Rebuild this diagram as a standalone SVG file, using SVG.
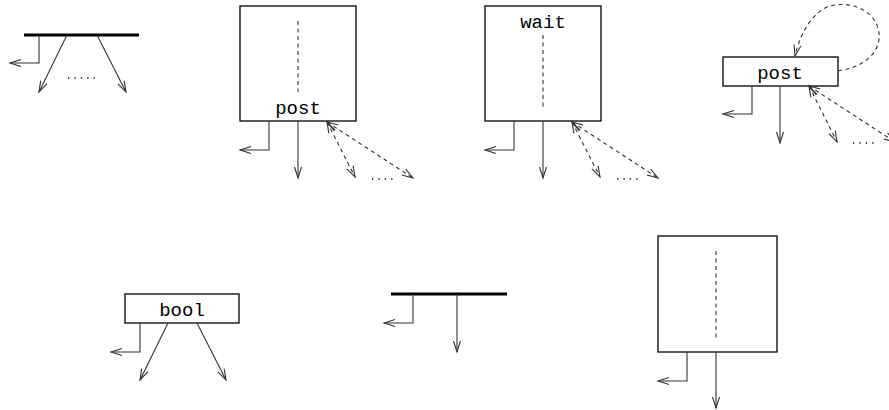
<svg xmlns="http://www.w3.org/2000/svg" width="889" height="410" viewBox="0 0 889 410">
  <style>
    .box { fill: #fff; stroke: #000; stroke-width: 1.3; }
    .bar { stroke: #000; stroke-width: 3; }
    .wire { fill: none; stroke: #333; stroke-width: 1.1; }
    .arr { marker-end: url(#head); }
    .dash { stroke-dasharray: 4 3.5; }
    .both { marker-start: url(#head-rev); marker-end: url(#head); }
    .guide { stroke: #333; stroke-width: 1.1; stroke-dasharray: 4 3.5; }
    .dots { stroke: #111; stroke-width: 1.3; stroke-dasharray: 1.3 5.1; }
    .lbl { font-family: "Liberation Mono", "DejaVu Sans Mono", monospace; font-size: 19px; text-anchor: middle; fill: #000; }
  </style>
  <defs>
    <marker id="head" markerUnits="userSpaceOnUse" markerWidth="14" markerHeight="10" refX="11" refY="4" orient="auto" overflow="visible">
      <path d="M0,0.5 L11,4 L0,7.5" fill="none" stroke="#333" stroke-width="1.1"/>
    </marker>
    <marker id="head-rev" markerUnits="userSpaceOnUse" markerWidth="14" markerHeight="10" refX="0" refY="4" orient="auto" overflow="visible">
      <path d="M11,0.5 L0,4 L11,7.5" fill="none" stroke="#333" stroke-width="1.1"/>
    </marker>
  </defs>

  <!-- fork bar, top left -->
  <g id="fork-top">
    <line class="bar" x1="24" y1="35" x2="139" y2="35"/>
  </g>

  <!-- block ending in post -->
  <g id="block-post">
    <rect class="box" x="240" y="6" width="116" height="115"/>
    <line class="guide" x1="298" y1="21" x2="298" y2="92"/>
    <text class="lbl" x="298" y="114">post</text>
  </g>

  <!-- block starting with wait -->
  <g id="block-wait">
    <rect class="box" x="485" y="6" width="116" height="115"/>
    <text class="lbl" x="543" y="28">wait</text>
    <line class="guide" x1="543" y1="35" x2="543" y2="107"/>
  </g>

  <!-- standalone post -->
  <g id="post-node">
    <rect class="box" x="723" y="57" width="115" height="29"/>
    <text class="lbl" x="780" y="79">post</text>
  </g>

  <!-- bool test -->
  <g id="bool-node">
    <rect class="box" x="125" y="294" width="114" height="29"/>
    <text class="lbl" x="182" y="316">bool</text>
  </g>

  <!-- join bar -->
  <g id="join-bar">
    <line class="bar" x1="391" y1="294" x2="507" y2="294"/>
  </g>

  <!-- plain block -->
  <g id="block-plain">
    <rect class="box" x="658" y="236" width="119" height="116"/>
    <line class="guide" x1="716" y1="251" x2="716" y2="338"/>
  </g>

  <g id="connectors">
    <!-- fork bar -->
    <path class="wire arr" d="M39,35 V63 H10"/>
    <path class="wire arr" d="M67,35 L39,92"/>
    <path class="wire arr" d="M97,35 L126,92"/>
    <line class="dots" x1="68" y1="78" x2="95" y2="78"/>

    <!-- block-post -->
    <path class="wire arr" d="M269,121 V150 H240"/>
    <path class="wire arr" d="M298,121 V178"/>
    <path class="wire dash both" d="M327,122 L355,177"/>
    <path class="wire dash both" d="M327,122 L413,178"/>
    <line class="dots" x1="372" y1="179" x2="393" y2="179"/>

    <!-- block-wait -->
    <path class="wire arr" d="M514,121 V150 H485"/>
    <path class="wire arr" d="M543,121 V178"/>
    <path class="wire dash both" d="M572,122 L600,177"/>
    <path class="wire dash both" d="M572,122 L658,178"/>
    <line class="dots" x1="617" y1="179" x2="638" y2="179"/>

    <!-- post-node -->
    <path class="wire dash arr" d="M838,71 C866,67 884,50 878,28 C872,8 848,1 830,6 C812,12 800,34 795,56"/>
    <path class="wire arr" d="M752,86 V114 H723"/>
    <path class="wire arr" d="M780,86 V143"/>
    <path class="wire dash both" d="M809,86 L837,142"/>
    <path class="wire dash both" d="M809,86 L895,142"/>
    <line class="dots" x1="853" y1="143" x2="874" y2="143"/>

    <!-- bool-node -->
    <path class="wire arr" d="M140,323 V352 H111"/>
    <path class="wire arr" d="M168,323 L140,380"/>
    <path class="wire arr" d="M197,323 L226,380"/>

    <!-- join bar -->
    <path class="wire arr" d="M413,294 V323 H384"/>
    <path class="wire arr" d="M457,294 V352"/>

    <!-- block-plain -->
    <path class="wire arr" d="M687,352 V381 H658"/>
    <path class="wire arr" d="M716,352 V408"/>
  </g>
</svg>
